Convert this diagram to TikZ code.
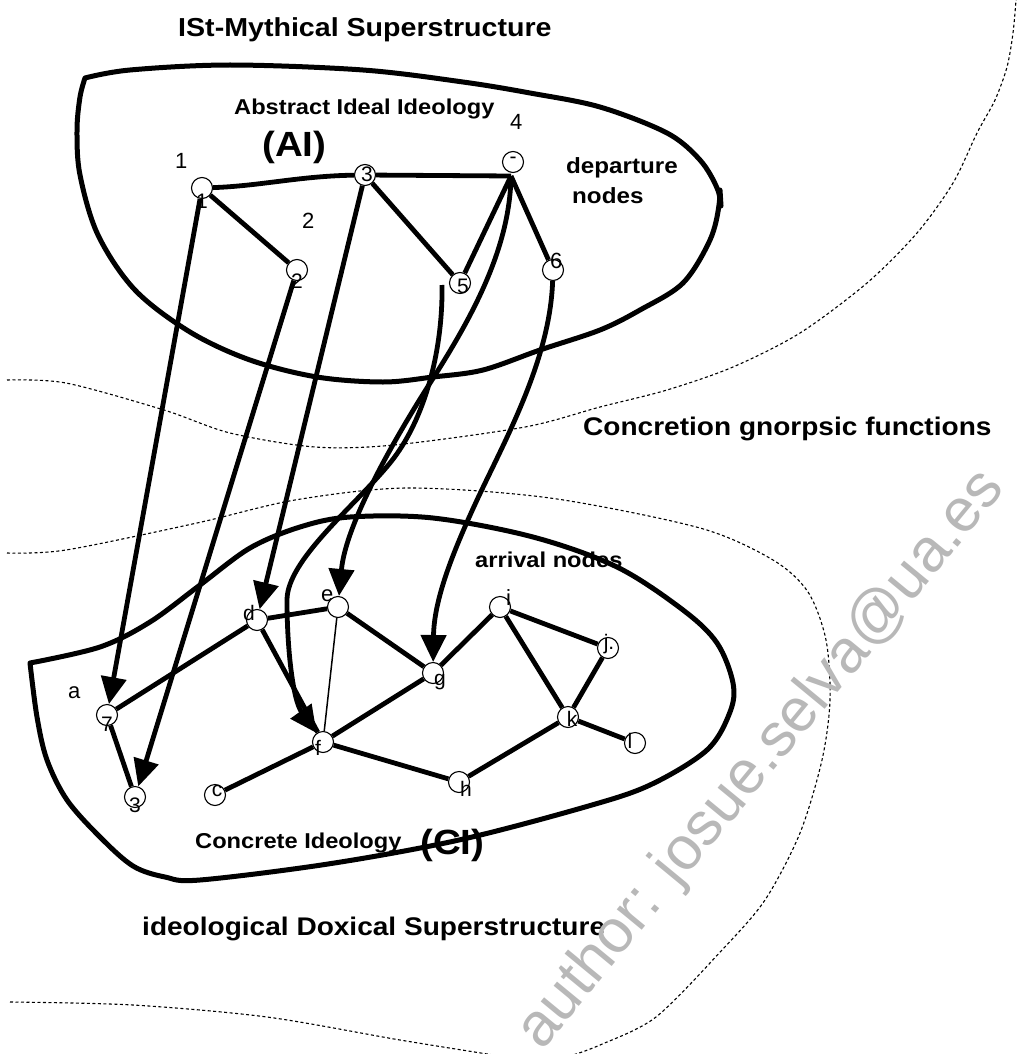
\documentclass[tikz,border=0pt]{standalone}
\usepackage{fontspec}
\setmainfont{Liberation Sans}
\newfontfamily\headfont[FakeStretch=1.1]{Liberation Sans}
\usetikzlibrary{arrows.meta}

\tikzset{
  contour/.style={line width=5pt, line join=round, line cap=round},
  edge/.style={line width=4.8pt},
  thinedge/.style={line width=1.5pt},
  flow/.style={line width=4.8pt, -{Triangle[length=27pt,width=25pt]}},
  band/.style={line width=1.1pt, dash pattern=on 3pt off 2.5pt},
  dot/.style={circle, draw, line width=1.1pt, fill=white, minimum size=21pt, inner sep=0pt},
  nl/.style={font=\fontsize{21}{21}\selectfont, inner sep=0pt},
  lbl/.style={font=\fontsize{22}{22}\selectfont, inner sep=0pt, anchor=base west},
  head/.style={inner sep=0pt, anchor=base west},
}

\begin{document}
\begin{tikzpicture}[x=1pt,y=-1pt]
\useasboundingbox (0,0) rectangle (1029,1054);

% dashed boundaries of the three levels
\draw[band] plot[smooth] coordinates {(7,380) (66,383) (164,410) (230,433) (315,447) (394,445) (525,427) (600,407) (667,390) (733,367) (800,333) (867,283) (917,233) (953,183) (977,133) (995,100) (1007,67) (1013,33) (1016,0)};
\draw[band] plot[smooth] coordinates {(7,553) (66,550) (197,523) (295,500) (407,488) (550,498) (700,528) (773,560) (808,592) (826,640) (830,700) (822,760) (800,833) (765,900) (722,950) (656,1017) (600,1045) (570,1056)};
\draw[band] plot[smooth] coordinates {(10,1002) (133,1005) (267,1017) (400,1040) (500,1056)};

% abstract ideal ideology contour
\draw[contour] plot[smooth, tension=0.55] coordinates {(85,78) (130,70) (230,65) (363,70) (463,82) (530,93) (600,107) (667,133) (700,160) (717,188) (719,205) (710,240) (683,283) (640,310) (600,330) (540,350) (483,370) (433,377) (383,382) (317,377) (250,360) (190,332) (135,290) (98,235) (80,175) (77,130) (80,97) (85,78)};
\draw[contour] (720,190) -- (721,206);

% concrete ideology contour
\draw[contour] plot[smooth, tension=0.55] coordinates {(30,663) (100,647) (150,622) (200,585) (250,548) (300,527) (350,517) (433,518) (533,537) (617,567) (683,610) (717,643) (733,683) (730,712) (707,750) (650,785) (585,807) (459,840) (328,864) (200,880) (165,877) (133,866) (100,837) (67,800) (47,760) (37,717) (30,663)};

% departure nodes
\node[dot] (n1) at (202,188) {};
\node[dot] (n2) at (297,270) {};
\node[dot] (n3) at (365,175) {};
\node[dot] (n4) at (513,162) {};
\coordinate (n4b) at (511,176);
\node[dot] (n5) at (460,283) {};
\coordinate (c5) at (442,285);
\node[dot] (n6) at (553,270) {};

% arrival nodes
\node[dot] (a) at (107,715) {};
\node[dot] (b) at (135,797) {};
\node[dot] (c) at (215,795) {};
\node[dot] (d) at (257,620) {};
\node[dot] (e) at (338,607) {};
\node[dot] (f) at (323,742) {};
\node[dot] (g) at (433,673) {};
\node[dot] (h) at (459,782) {};
\node[dot] (i) at (500,607) {};
\node[dot] (j) at (608,648) {};
\node[dot] (k) at (568,717) {};
\node[dot] (l) at (635,743) {};

% links among departure nodes
\draw[edge] (n1) .. controls (260,186) and (300,176) .. (n3);
\draw[edge] (n1) -- (n2);
\draw[edge] (n3) -- (n4b);
\draw[edge] (n3) -- (n5);
\draw[edge] (n4b) -- (n5);
\draw[edge] (n4b) -- (n6);

% concretion functions
\draw[flow] (n1) -- (a);
\draw[flow] (n2) -- (b);
\draw[flow] (n3) -- (d);
\draw[flow] (c5) .. controls (443,350) and (425,420) .. (390,463) .. controls (355,506) and (287,560) .. (287,600) .. controls (287,650) and (293,700) .. (f);
\draw[flow] (n4b) .. controls (510,250) and (470,320) .. (432,380) .. controls (402,427) and (346,520) .. (e);
\draw[flow] (n6) .. controls (550,360) and (505,440) .. (477,500) .. controls (452,554) and (434,600) .. (g);

% links among arrival nodes
\draw[edge] (a) -- (b);
\draw[edge] (a) -- (d);
\draw[edge] (d) -- (e);
\draw[edge] (d) -- (f);
\draw[thinedge] (e) -- (f);
\draw[edge] (e) -- (g);
\draw[edge] (f) -- (g);
\draw[edge] (g) -- (i);
\draw[edge] (i) -- (j);
\draw[edge] (i) -- (k);
\draw[edge] (j) -- (k);
\draw[edge] (k) -- (l);
\draw[edge] (f) -- (h);
\draw[edge] (h) -- (k);
\draw[edge] (c) -- (f);

% node marks
\node[nl] (t1) at (202,201) {1};
\node[nl] (t2) at (297,281) {2};
\node[nl] (t3) at (367,174) {3};
\node[nl] (t4) at (513,160) {-};
\node[nl] (t5) at (463,286) {5};
\node[nl] (ta) at (107,724) {7};
\node[nl] (tb) at (135,805) {3};
\node[nl] (tc) at (217,791) {c};
\node[nl] (td) at (249,613) {d};
\node[nl] (tf) at (318,748) {f};
\node[nl] (tg) at (440,682) {g};
\node[nl] (th) at (466,789) {h};
\node[nl] (tj) at (609,644) {j.};
\node[nl] (tk) at (572,719) {k};
\node[nl] (tl) at (630,741) {l};

% labels
\node[lbl] (l1) at (175,168) {1};
\node[lbl] (l2) at (302,228) {2};
\node[lbl] (l4) at (510,130) {4};
\node[lbl] (l6) at (550,268) {6};
\node[lbl] (la) at (68,698) {a};
\node[lbl] (le) at (321,601) {e};
\node[lbl] (li) at (506,605) {i};

\node[head] (title) at (178,37) {\headfont\bfseries\fontsize{26}{26}\selectfont ISt-Mythical Superstructure};
\node[head] (abs) at (234,115) {\headfont\bfseries\fontsize{21.5}{21.5}\selectfont Abstract Ideal Ideology};
\node[head] (ai) at (262,157) {\headfont\bfseries\fontsize{35}{35}\selectfont (AI)};
\node[head] (dep) at (566,173) {\headfont\bfseries\fontsize{22}{22}\selectfont departure};
\node[head] (depn) at (572,203) {\headfont\bfseries\fontsize{22}{22}\selectfont nodes};
\node[head] (conc) at (583,435) {\headfont\bfseries\fontsize{25.5}{25.5}\selectfont Concretion gnorpsic functions};
\node[head] (arr) at (475,567) {\headfont\bfseries\fontsize{21.5}{21.5}\selectfont arrival nodes};
\node[head] (ci) at (195,848) {\headfont\bfseries\fontsize{21.5}{21.5}\selectfont Concrete Ideology};
\node[head] (cip) at (420,854) {\headfont\bfseries\fontsize{35}{35}\selectfont (CI)};
\node[head] (doxa) at (142,935) {\headfont\bfseries\fontsize{25.5}{25.5}\selectfont ideological Doxical Superstructure};

% author stamp
\node[rotate=50.5, text=black!28, inner sep=0pt, font=\fontsize{61}{61}\selectfont] (stamp) at (762,760) {author: josue.selva@ua.es};
\end{tikzpicture}
\end{document}
